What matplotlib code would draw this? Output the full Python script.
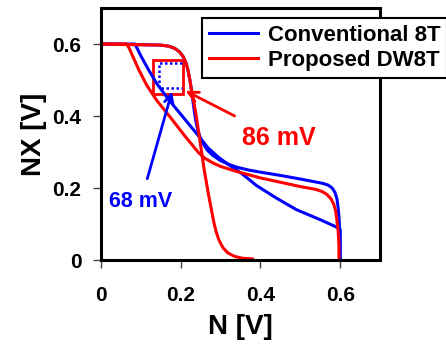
import matplotlib
matplotlib.use('Agg')
import matplotlib.pyplot as plt

plt.rcParams['font.family'] = ['Liberation Sans', 'DejaVu Sans']
plt.rcParams['font.weight'] = 'bold'

# conventional 8T butterfly (two VTCs)
conv_a_x = [0, 0.085, 0.092, 0.1, 0.12, 0.14, 0.164, 0.185, 0.2, 0.22, 0.243, 0.268, 0.295,
            0.32, 0.35, 0.39, 0.44, 0.49, 0.55, 0.59, 0.6, 0.6]
conv_a_y = [0.6, 0.6, 0.585, 0.567, 0.527, 0.49, 0.454, 0.425, 0.405, 0.378, 0.347, 0.312, 0.285,
            0.265, 0.243, 0.207, 0.172, 0.14, 0.112, 0.092, 0.085, 0]
conv_b_x = [0, 0.15, 0.17, 0.185, 0.197, 0.206, 0.213, 0.218, 0.223, 0.227, 0.232, 0.238, 0.243,
            0.249, 0.257, 0.267, 0.28, 0.3, 0.32, 0.34, 0.37, 0.4, 0.45, 0.5, 0.556, 0.57, 0.58,
            0.587, 0.592, 0.595, 0.597, 0.599, 0.6, 0.6]
conv_b_y = [0.6, 0.597, 0.594, 0.588, 0.578, 0.565, 0.548, 0.528, 0.5, 0.472, 0.43, 0.385, 0.36,
            0.34, 0.322, 0.305, 0.291, 0.276, 0.266, 0.258, 0.25, 0.244, 0.235, 0.225, 0.213, 0.208,
            0.2, 0.188, 0.17, 0.145, 0.12, 0.08, 0.04, 0]

# proposed DW8T butterfly
prop_a_x = [0, 0.15, 0.17, 0.185, 0.197, 0.206, 0.213, 0.218, 0.223, 0.227, 0.231, 0.235, 0.239,
            0.243, 0.247, 0.251, 0.255, 0.259, 0.264, 0.27, 0.277, 0.283, 0.289, 0.296, 0.306,
            0.318, 0.335, 0.355, 0.38]
prop_a_y = [0.6, 0.597, 0.594, 0.588, 0.578, 0.565, 0.548, 0.528, 0.5, 0.472, 0.45, 0.425, 0.4,
            0.37, 0.34, 0.31, 0.28, 0.25, 0.218, 0.18, 0.14, 0.105, 0.078, 0.055, 0.034,
            0.02, 0.01, 0.005, 0.003]
prop_b_x = [0, 0.064, 0.07, 0.08, 0.095, 0.115, 0.14, 0.175, 0.21, 0.23, 0.245, 0.26, 0.28, 0.3,
            0.34, 0.4, 0.45, 0.5, 0.54, 0.555, 0.567, 0.577, 0.584, 0.589, 0.592, 0.595, 0.597,
            0.597]
prop_b_y = [0.6, 0.6, 0.59, 0.565, 0.528, 0.485, 0.443, 0.395, 0.345, 0.318, 0.298, 0.283, 0.27,
            0.26, 0.246, 0.228, 0.216, 0.204, 0.196, 0.19, 0.182, 0.17, 0.155, 0.135, 0.11, 0.08,
            0.04, 0]

ticks = [0, 0.2, 0.4, 0.6]
tick_labels = ['0', '0.2', '0.4', '0.6']

blue = '#0000ff'
red = '#ff0000'

fig = plt.figure(figsize=(4.46, 3.49), dpi=100)
ax = fig.add_axes([0.2265, 0.255, 0.6255, 0.722])

ax.plot(conv_a_x, conv_a_y, color=blue, lw=2.2, label='Conventional 8T')
ax.plot(conv_b_x, conv_b_y, color=blue, lw=2.2)
ax.plot(prop_a_x, prop_a_y, color=red, lw=2.2, label='Proposed DW8T')
ax.plot(prop_b_x, prop_b_y, color=red, lw=2.2)

# SNM squares
ax.add_patch(plt.Rectangle((0.13, 0.462), 0.075, 0.093, fill=False, ec=red, lw=2))
ax.plot([0.203, 0.146, 0.146, 0.203], [0.546, 0.546, 0.477, 0.477], color=blue, lw=1.8, ls=(0, (1, 1)))

ax.annotate('68 mV', xy=(0.178, 0.468), xytext=(0.1, 0.163), color=blue, fontsize=15.5,
            fontweight='bold', ha='center', va='center',
            arrowprops=dict(arrowstyle='->', color=blue, lw=2, shrinkA=7, shrinkB=0))
ax.annotate('86 mV', xy=(0.212, 0.47), xytext=(0.445, 0.338), color=red, fontsize=18,
            fontweight='bold', ha='center', va='center',
            arrowprops=dict(arrowstyle='->', color=red, lw=2, shrinkA=12, shrinkB=0))

ax.set_xlim(0, 0.7)
ax.set_ylim(0, 0.7)
ax.set_xticks(ticks)
ax.set_xticklabels(tick_labels)
ax.set_yticks(ticks)
ax.set_yticklabels(tick_labels)
ax.tick_params(labelsize=15, length=6, width=1, color='#444444', pad=8)
ax.tick_params(axis='x', pad=13)
for s in ax.spines.values():
    s.set_linewidth(2.2)
ax.set_xlabel('N [V]', fontsize=20, fontweight='bold', labelpad=6)
ax.set_ylabel('NX [V]', fontsize=20, fontweight='bold', labelpad=4)

leg = fig.legend(loc='upper left', bbox_to_anchor=(0.453, 0.948), borderaxespad=0,
                 fancybox=False, edgecolor='black', framealpha=1, fontsize=16,
                 handlelength=2.2, handletextpad=0.45, borderpad=0.3, labelspacing=0.2)
leg.get_frame().set_linewidth(1.5)
for t in leg.get_texts():
    t.set_fontweight('bold')

fig.savefig('out.png', dpi=100)
